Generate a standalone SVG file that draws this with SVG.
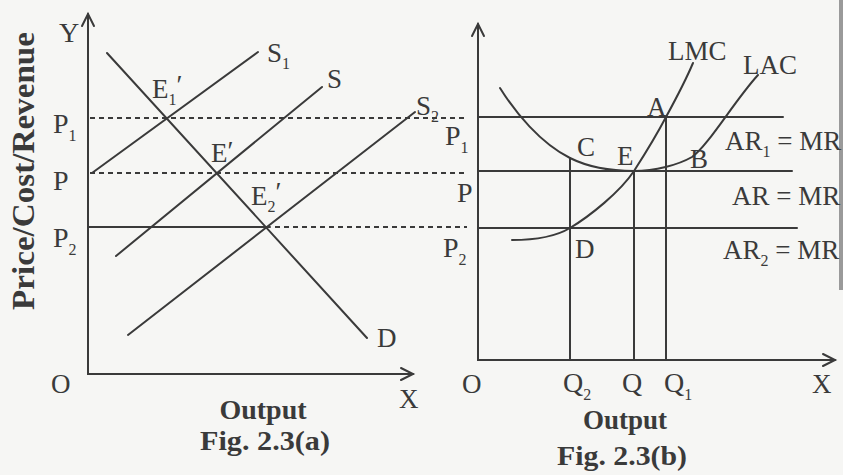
<svg xmlns="http://www.w3.org/2000/svg" width="843" height="475" viewBox="0 0 843 475">
<style>
.ln{stroke:#3a3a3a;stroke-width:2;fill:none;stroke-linecap:round}
.ds{stroke:#3a3a3a;stroke-width:2;fill:none;stroke-dasharray:5 4}
.t{font-family:"Liberation Serif","Times New Roman",serif;font-size:28px;fill:#3a3a3a}
.m{font-size:27px}
.b{font-family:"Liberation Serif","Times New Roman",serif;font-weight:bold;fill:#3a3a3a}
.s{font-size:16px}
</style>
<rect width="843" height="475" fill="#f6f6f4"/>
<rect x="839" y="0" width="4" height="290" fill="#9a9a9a"/>

<g id="fig-a">
  <g id="axes-a">
    <path class="ln" d="M88,14 V374 H413"/>
    <path class="ln" d="M82,26 L88,14 L94,26"/>
    <path class="ln" d="M401,368 L413,374 L401,380"/>
  </g>
  <g id="curves-a">
    <path class="ln" d="M107,53 L367,338"/>
    <path class="ln" d="M92,173 L258,52"/>
    <path class="ln" d="M116,256 L322,87"/>
    <path class="ln" d="M128,335 L415,112"/>
    <path class="ds" d="M90,118 H467"/>
    <path class="ds" d="M90,173 H467"/>
    <path class="ln" d="M88,227 H270"/>
    <path class="ds" d="M275,227 H467"/>
  </g>
  <g id="labels-a">
    <text class="t" x="59" y="42">Y</text>
    <text class="t m" x="267" y="62">S<tspan class="s" dy="7">1</tspan></text>
    <text class="t m" x="327" y="88">S</text>
    <text class="t m" x="416" y="115">S<tspan class="s" dy="7">2</tspan></text>
    <text class="t m" x="152" y="98">E<tspan class="s" dy="7">1</tspan><tspan dy="-11">′</tspan></text>
    <text class="t m" x="211" y="162">E<tspan dy="-2">′</tspan></text>
    <text class="t m" x="251" y="205">E<tspan class="s" dy="7">2</tspan><tspan dy="-11">′</tspan></text>
    <text class="t" x="53" y="133">P<tspan class="s" dy="8">1</tspan></text>
    <text class="t" x="53" y="190">P</text>
    <text class="t" x="53" y="247">P<tspan class="s" dy="8">2</tspan></text>
    <text class="t m" x="51" y="393">O</text>
    <text class="t m" x="399" y="408">X</text>
    <text class="t m" x="377" y="347">D</text>
    <text class="b" x="263" y="419" font-size="28" text-anchor="middle">Output</text>
    <text class="b" x="265" y="450" font-size="27" text-anchor="middle" textLength="130" lengthAdjust="spacingAndGlyphs">Fig. 2.3(a)</text>
    <text class="b" font-size="31" text-anchor="middle" textLength="278" lengthAdjust="spacingAndGlyphs" transform="translate(34,171) rotate(-90)">Price/Cost/Revenue</text>
  </g>
</g>

<g id="fig-b">
  <g id="axes-b">
    <path class="ln" d="M478,24 V360 H835"/>
    <path class="ln" d="M472,36 L478,24 L484,36"/>
    <path class="ln" d="M823,354 L835,360 L823,366"/>
  </g>
  <g id="curves-b">
    <path class="ln" d="M478,117 H783"/>
    <path class="ln" d="M478,171 H792"/>
    <path class="ln" d="M478,228 H797"/>
    <path class="ln" d="M570,158 V360"/>
    <path class="ln" d="M634,171 V360"/>
    <path class="ln" d="M666,117 V360"/>
    <path id="LAC" class="ln" d="M500,88 C515,112 540,143 570,158 C590,168 610,171 634,171 C655,171 678,165 692,157 C708,146 735,100 758,75"/>
    <path id="LMC" class="ln" d="M512,240 C545,240 560,234 570,228 C590,216 620,192 634,171 C643,157 655,138 666,117 C672,106 685,82 693,63"/>
  </g>
  <g id="labels-b">
    <text class="t m" x="668" y="60">LMC</text>
    <text class="t m" x="743" y="74">LAC</text>
    <text class="t m" x="647" y="116">A</text>
    <text class="t m" x="577" y="156">C</text>
    <text class="t m" x="617" y="165">E</text>
    <text class="t m" x="690" y="168">B</text>
    <text class="t m" x="575" y="258">D</text>
    <text class="t" x="445" y="145">P<tspan class="s" dy="8">1</tspan></text>
    <text class="t" x="457" y="202">P</text>
    <text class="t" x="443" y="257">P<tspan class="s" dy="8">2</tspan></text>
    <text class="t m" x="462" y="393">O</text>
    <text class="t" x="563" y="392">Q<tspan class="s" dy="8">2</tspan></text>
    <text class="t" x="622" y="392">Q</text>
    <text class="t" x="664" y="392">Q<tspan class="s" dy="8">1</tspan></text>
    <text class="t m" x="812" y="393">X</text>
    <text class="t m" x="725" y="150">AR<tspan class="s" dy="7">1</tspan><tspan dy="-7"> = MR</tspan></text>
    <text class="t m" x="732" y="205">AR = MR</text>
    <text class="t m" x="723" y="259">AR<tspan class="s" dy="7">2</tspan><tspan dy="-7"> = MR</tspan></text>
    <text class="b" x="625" y="429" font-size="27" text-anchor="middle">Output</text>
    <text class="b" x="622" y="465" font-size="27" text-anchor="middle" textLength="130" lengthAdjust="spacingAndGlyphs">Fig. 2.3(b)</text>
  </g>
</g>
</svg>
